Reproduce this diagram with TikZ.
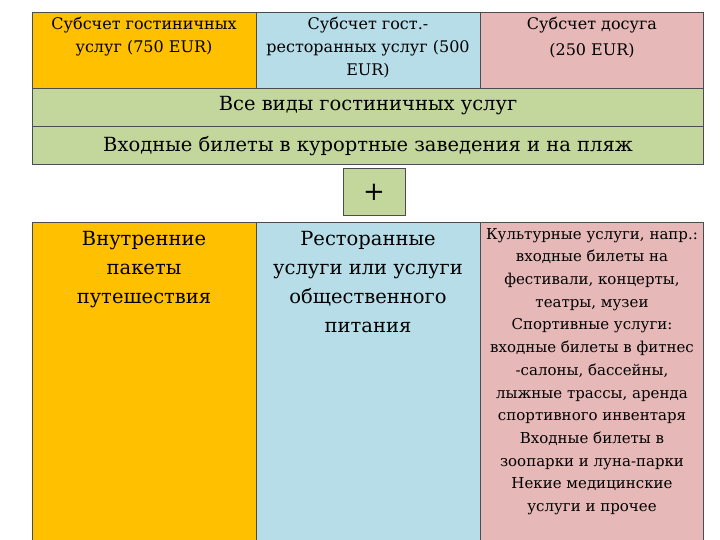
\documentclass[tikz,border=0pt]{standalone}
\usepackage{fontspec}
\setmainfont{DejaVu Serif}
\definecolor{org}{HTML}{FFC000}
\definecolor{lblue}{HTML}{B7DEE8}
\definecolor{pnk}{HTML}{E6B9B8}
\definecolor{grn}{HTML}{C3D69B}
\begin{document}
\begin{tikzpicture}[x=1pt,y=-1pt,
 cell/.style={draw=black!70,line width=0.8pt},
 txt/.style={align=center,inner sep=0pt}]
\useasboundingbox (0,0) rectangle (720,540);
\fill[white] (0,0) rectangle (720,540);
\draw[cell,fill=org] (32,12) rectangle (256,88);
\draw[cell,fill=lblue] (256,12) rectangle (480,88);
\draw[cell,fill=pnk] (480,12) rectangle (703,88);
\node[txt,anchor=north,font=\fontsize{16}{23}\selectfont] (t1) at (144,17) {Субсчет гостиничных\\услуг (750 EUR)};
\node[txt,anchor=north,font=\fontsize{16}{23}\selectfont] (t2) at (368,17) {Субсчет гост.-\\ресторанных услуг (500\\EUR)};
\node[txt,anchor=north,font=\fontsize{16}{26}\selectfont] (t3) at (592,17) {Субсчет досуга\\(250 EUR)};
\draw[cell,fill=grn] (32,88) rectangle (703,126);
\node[txt,font=\fontsize{19.5}{22}\selectfont] (g1) at (368,106) {Все виды гостиничных услуг};
\draw[cell,fill=grn] (32,126) rectangle (703,164);
\node[txt,font=\fontsize{19.5}{22}\selectfont] (g2) at (368,146) {Входные билеты в курортные заведения и на пляж};
\draw[cell,fill=grn] (343,168) rectangle (405,215);
\node[txt,font=\fontsize{26}{28}\selectfont] (plus) at (374,192) {+};
\draw[cell,fill=org] (32,222) rectangle (256,540);
\draw[cell,fill=lblue] (256,222) rectangle (480,540);
\draw[cell,fill=pnk] (480,222) rectangle (703,540);
\node[txt,anchor=north,font=\fontsize{19.5}{29}\selectfont] (b1) at (144,231) {Внутренние\\пакеты\\путешествия};
\node[txt,anchor=north,font=\fontsize{19.5}{29}\selectfont] (b2) at (368,231) {Ресторанные\\услуги или услуги\\общественного\\питания};
\node[txt,anchor=north,font=\fontsize{15}{22.7}\selectfont] (b3) at (592,228) {Культурные услуги, напр.:\\входные билеты на\\фестивали, концерты,\\театры,  музеи\\Спортивные услуги:\\входные билеты в фитнес\\-салоны, бассейны,\\лыжные трассы, аренда\\спортивного инвентаря\\Входные билеты в\\зоопарки и луна-парки\\Некие медицинские\\услуги и прочее};
\end{tikzpicture}
\end{document}
